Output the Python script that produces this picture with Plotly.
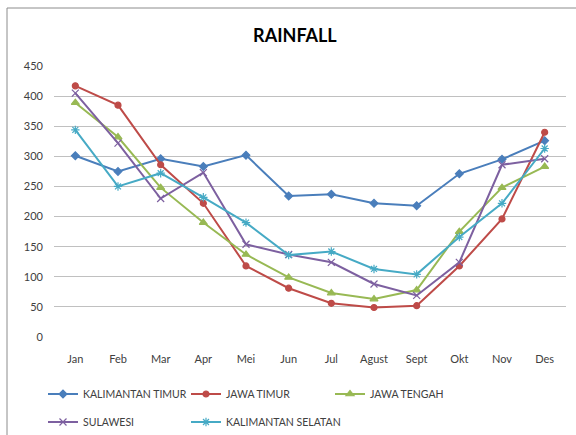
import plotly.graph_objects as go

months = ["Jan", "Feb", "Mar", "Apr", "Mei", "Jun", "Jul", "Agust", "Sept", "Okt", "Nov", "Des"]
kalimantan_timur = [301, 275, 296, 283, 302, 234, 237, 222, 218, 271, 295, 326]
jawa_timur = [417, 385, 286, 222, 118, 81, 56, 49, 52, 118, 196, 340]
jawa_tengah = [389, 332, 248, 190, 137, 99, 73, 63, 78, 175, 248, 283]
sulawesi = [405, 322, 230, 273, 154, 137, 124, 88, 69, 124, 286, 296]
kalimantan_selatan = [344, 250, 272, 232, 190, 136, 142, 113, 104, 166, 222, 313]
y_ticks = [0, 50, 100, 150, 200, 250, 300, 350, 400, 450]

# (name, values, colour, marker, size, legend id, legend left px, legend row centre px)
series = [
    ("KALIMANTAN TIMUR", kalimantan_timur, "#4A7EBB", "diamond", 6, "legend", 43, 393),
    ("JAWA TIMUR", jawa_timur, "#BE4B48", "circle", 6, "legend2", 186, 393),
    ("JAWA TENGAH", jawa_tengah, "#98B954", "triangle-up", 7, "legend3", 330, 393),
    ("SULAWESI", sulawesi, "#7D60A0", "x-thin-open", 7, "legend4", 43, 421),
    ("KALIMANTAN SELATAN", kalimantan_selatan, "#46AAC5", "asterisk-open", 7, "legend5", 186, 421),
]

font_family = "Lato, 'Open Sans', sans-serif"
fig = go.Figure()
legends = {}
for name, vals, color, sym, size, leg, lx, ly in series:
    fig.add_trace(go.Scatter(
        x=months, y=vals, name=name, mode="lines+markers",
        line=dict(color=color, width=2),
        marker=dict(symbol=sym, size=size, color=color,
                    line=dict(color=color, width=1.2)),
        legend=leg,
    ))
    legends[leg] = dict(orientation="h", xanchor="left", yanchor="middle",
                        xref="container", yref="container",
                        x=lx / 576, y=1 - (ly + 1) / 435,
                        font=dict(size=10.5, color="#404040"),
                        itemwidth=30, bgcolor="rgba(0,0,0,0)")

fig.update_layout(
    width=576, height=435,
    paper_bgcolor="white", plot_bgcolor="white",
    margin=dict(l=54, r=10, t=66, b=98),
    font=dict(family=font_family, size=11, color="#404040"),
    title=dict(text="<b>RAINFALL</b>", x=0.512, xref="container", xanchor="center",
               y=1 - 36 / 435, yref="container", yanchor="middle",
               font=dict(size=18, color="#000000", family=font_family)),
    showlegend=True,
    xaxis=dict(type="category", showgrid=False, zeroline=False, showline=False,
               ticks="", ticklabelstandoff=14, range=[-0.5, 11.5]),
    yaxis=dict(range=[0, 450], tickvals=y_ticks, showgrid=True, gridcolor="#C0C0C0",
               gridwidth=1, zeroline=False, showline=False, ticks="",
               ticklabelstandoff=10),
    shapes=[
        dict(type="line", xref="paper", yref="paper",
             x0=(7 - 54) / 512, x1=(7 - 54) / 512, y0=(337 - 8) / 271, y1=(337 - 440) / 271,
             line=dict(color="#8C8C8C", width=1)),
        dict(type="line", xref="paper", yref="paper",
             x0=(7 - 54) / 512, x1=(580 - 54) / 512, y0=(337 - 8) / 271, y1=(337 - 8) / 271,
             line=dict(color="#8C8C8C", width=1)),
    ],
    **legends,
)

fig.write_html("out.html", config={"displayModeBar": False},
               post_script="document.body.style.margin='0';")
